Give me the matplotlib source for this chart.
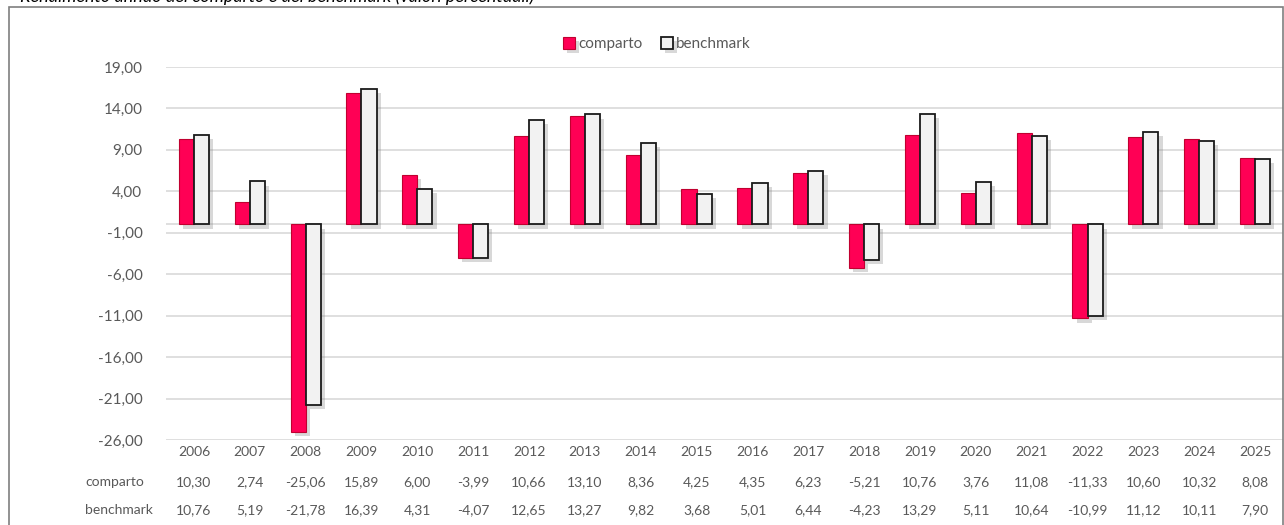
import numpy as np
import matplotlib.pyplot as plt
import matplotlib.patheffects as pe
from matplotlib.patches import Rectangle

years = ["2006", "2007", "2008", "2009", "2010", "2011", "2012", "2013", "2014", "2015",
         "2016", "2017", "2018", "2019", "2020", "2021", "2022", "2023", "2024", "2025"]
comparto = [10.30, 2.74, -25.06, 15.89, 6.00, -3.99, 10.66, 13.10, 8.36, 4.25,
            4.35, 6.23, -5.21, 10.76, 3.76, 11.08, -11.33, 10.60, 10.32, 8.08]
benchmark = [10.76, 5.19, -21.78, 16.39, 4.31, -4.07, 12.65, 13.27, 9.82, 3.68,
             5.01, 6.44, -4.23, 13.29, 5.11, 10.64, -10.99, 11.12, 10.11, 7.90]
yticks = [19, 14, 9, 4, -1, -6, -11, -16, -21, -26]

plt.rcParams["font.family"] = ["Lato", "DejaVu Sans"]
TXT = "#595959"
W, H = 1284, 525

fig = plt.figure(figsize=(W / 100, H / 100), dpi=100)
ax = fig.add_axes([166 / W, 1 - 440 / H, (1283 - 166) / W, (440 - 67) / H])

x = np.arange(len(years))
bw = 0.27
shadow = [pe.withSimplePatchShadow(offset=(3, -3), shadow_rgbFace="#808080", alpha=0.3)]
ax.bar(x - bw / 2, comparto, bw, color="#FF0055", edgecolor="#C00030", linewidth=0.8,
       label="comparto", zorder=3, path_effects=shadow)
ax.bar(x + bw / 2, benchmark, bw, color="#F2F2F2", edgecolor="#1a1a1a", linewidth=1.3,
       label="benchmark", zorder=3, path_effects=shadow)

ax.set_xlim(-0.5, len(years) - 0.5)
ax.set_ylim(-26, 19)
ax.set_yticks(yticks)
ax.set_yticklabels([f"{v:.2f}".replace(".", ",") for v in yticks], color=TXT, fontsize=11)
ax.yaxis.grid(True, color="#D9D9D9", linewidth=1.2, zorder=0)
ax.axhline(0, color="#D9D9D9", linewidth=1.2, zorder=1)
ax.tick_params(axis="y", length=0, pad=17)
ax.set_xticks(x)
ax.set_xticklabels(years, color=TXT, fontsize=10)
ax.tick_params(axis="x", length=0, pad=4)
for s in ax.spines.values():
    s.set_visible(False)

# data table rows under the axis
trans = ax.get_xaxis_transform()
for row_y, name, vals in [(482, "comparto", comparto), (510, "benchmark", benchmark)]:
    yy = -(row_y - 440) / (440 - 67)
    fig.text(85 / W, 1 - row_y / H, name, color=TXT, fontsize=10, va="center", ha="left")
    for xi, v in zip(x, vals):
        ax.text(xi, yy, f"{v:.2f}".replace(".", ","), transform=trans, color=TXT,
                fontsize=10, ha="center", va="center", clip_on=False)

fig.legend(loc="center", bbox_to_anchor=(657 / W, 1 - 44 / H), ncol=2, frameon=False,
           fontsize=11, labelcolor=TXT, handlelength=0.8, handleheight=0.8,
           handletextpad=0.2, columnspacing=1.2)

# outer frame and clipped title
fig.add_artist(Rectangle((9 / W, -0.05), (1283 - 9) / W, 1.05 - 7 / H,
                         transform=fig.transFigure, fill=False, edgecolor="#7F7F7F", lw=1.2))
fig.text(20 / W, 1 - 2 / H, "Rendimento annuo del comparto e del benchmark (valori percentuali)",
         fontsize=13, style="italic", color="#000000", va="baseline", ha="left")

fig.savefig("out.png", dpi=100)
